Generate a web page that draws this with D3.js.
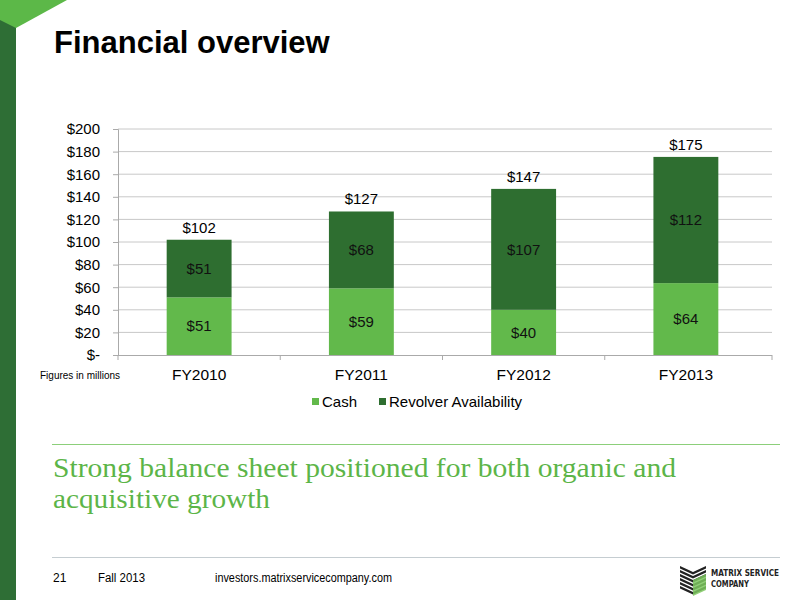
<!DOCTYPE html>
<html><head><meta charset="utf-8">
<script src="https://cdn.jsdelivr.net/npm/d3@7"></script>
<style>body{margin:0;background:#fff}svg{display:block}</style>
</head><body>
<script>
const categories = ["FY2010","FY2011","FY2012","FY2013"];
const cash = [51, 59, 40, 63.6];
const revolver = [51, 68, 107, 111.7];
const yTicks = [0,20,40,60,80,100,120,140,160,180,200];
const seriesNames = ["Cash","Revolver Availability"];
const colors = ["#62b94b","#2e6e30"];

const W=800,H=600;
const svg=d3.select("body").append("svg").attr("width",W).attr("height",H);

// slide decoration
svg.append("rect").attr("x",0).attr("y",0).attr("width",16).attr("height",H).attr("fill","#2e6e35");
svg.append("path").attr("d","M0,0 L67,0 L16,28 L0,20 Z").attr("fill","#5cb848");

svg.append("text").attr("x",54).attr("y",53).text("Financial overview")
  .attr("font-family","Liberation Sans, Arial, sans-serif").attr("font-weight","bold").attr("font-size",31).attr("fill","#000");

const m={l:118,r:772,t:129,b:355};
const x=d3.scaleBand().domain(categories).range([m.l,767]).paddingInner(0.6).paddingOuter(0.3);
const y=d3.scaleLinear().domain([0,200]).range([m.b,m.t]);

// gridlines
svg.append("g").selectAll("line").data(yTicks.slice(1)).join("line")
  .attr("x1",m.l).attr("x2",m.r).attr("y1",d=>y(d)).attr("y2",d=>y(d))
  .attr("stroke","#c8c8c8").attr("stroke-width",1);

const font="Liberation Sans, Arial, sans-serif";
// y axis
const yAxis=svg.append("g").attr("transform",`translate(${m.l},0)`)
  .call(d3.axisLeft(y).tickValues(yTicks).tickSize(5).tickFormat(d=>d===0?"$-":"$"+d));
yAxis.select(".domain").attr("stroke","#aaa");
yAxis.selectAll(".tick line").attr("stroke","#aaa");
yAxis.selectAll("text").attr("font-family",font).attr("font-size",15).attr("fill","#000").attr("x",-18);

// x axis
const xAxis=svg.append("g").attr("transform",`translate(0,${m.b})`)
  .call(d3.axisBottom(x).tickSize(0).tickSizeOuter(0));
xAxis.select(".domain").attr("stroke","#aaa").attr("d",`M${m.l},0.5H${m.r}`);
xAxis.selectAll("text").attr("font-family",font).attr("font-size",15.5).attr("fill","#000").attr("y",14);
// category boundary ticks
const bnd=d3.range(categories.length+1).map(i=>i===0?m.l:(i===categories.length?m.r:(x(categories[i-1])+x.bandwidth()+x(categories[i]))/2));
svg.append("g").selectAll("line").data(bnd).join("line")
  .attr("x1",d=>d).attr("x2",d=>d)
  .attr("y1",m.b).attr("y2",m.b+5).attr("stroke","#aaa");

// stacked bars
const data=categories.map((c,i)=>({cat:c,Cash:cash[i],"Revolver Availability":revolver[i]}));
const stack=d3.stack().keys(seriesNames)(data);
const g=svg.append("g");
stack.forEach((s,si)=>{
  g.selectAll(null).data(s).join("rect")
    .attr("x",d=>x(d.data.cat)).attr("width",x.bandwidth())
    .attr("y",d=>y(d[1])).attr("height",d=>y(d[0])-y(d[1]))
    .attr("fill",colors[si]);
  g.selectAll(null).data(s).join("text")
    .attr("x",d=>x(d.data.cat)+x.bandwidth()/2).attr("y",d=>(y(d[0])+y(d[1]))/2)
    .attr("dy","0.35em").attr("text-anchor","middle")
    .attr("font-family",font).attr("font-size",15).attr("fill","#111")
    .text(d=>"$"+Math.round(d[1]-d[0]));
});
// totals
g.selectAll(null).data(data).join("text")
  .attr("x",d=>x(d.cat)+x.bandwidth()/2).attr("y",d=>y(d.Cash+d["Revolver Availability"])-7)
  .attr("text-anchor","middle").attr("font-family",font).attr("font-size",15).attr("fill","#000")
  .text(d=>"$"+Math.round(d.Cash+d["Revolver Availability"]));

svg.append("text").attr("x",40).attr("y",379).text("Figures in millions")
  .attr("font-family",font).attr("font-size",10).attr("fill","#000");

// legend
const leg=svg.append("g");
const legItems=[{n:"Cash",x:312},{n:"Revolver Availability",x:379}];
legItems.forEach((it,i)=>{
  leg.append("rect").attr("x",it.x).attr("y",398).attr("width",7).attr("height",7).attr("fill",colors[i]);
  leg.append("text").attr("x",it.x+10).attr("y",407).text(it.n)
    .attr("font-family",font).attr("font-size",15).attr("fill","#000");
});

// bottom section
svg.append("line").attr("x1",52).attr("x2",780).attr("y1",444.5).attr("y2",444.5).attr("stroke","#8ccf7a").attr("stroke-width",1.2);
const sub=svg.append("text").attr("font-family","Liberation Serif, Georgia, serif").attr("font-size",28).attr("fill","#5cb548");
sub.append("tspan").attr("x",53).attr("y",477).attr("textLength",623).attr("lengthAdjust","spacingAndGlyphs").text("Strong balance sheet positioned for both organic and");
sub.append("tspan").attr("x",53).attr("y",508).attr("textLength",217).attr("lengthAdjust","spacingAndGlyphs").text("acquisitive growth");

svg.append("line").attr("x1",52).attr("x2",780).attr("y1",557.5).attr("y2",557.5).attr("stroke","#c5cdd1").attr("stroke-width",1.2);
const ff="Liberation Sans Narrow, Arial Narrow, Liberation Sans, sans-serif";
[["21",53,null],["Fall 2013",98,47],["investors.matrixservicecompany.com",215,177]].forEach(([t,xx,len])=>{
  const tx=svg.append("text").attr("x",xx).attr("y",582).text(t).attr("font-family",ff).attr("font-size",12).attr("fill","#000");
  if(len) tx.attr("textLength",len).attr("lengthAdjust","spacingAndGlyphs");
});

// logo
const lg=svg.append("g").attr("transform","translate(680,566)");
[0,4,8,12,16,20].forEach(o=>{
  lg.append("path").attr("d",`M0,${o} L13,${o+6} L26,${o} L26,${o+2.5} L13,${o+8.5} L0,${o+2.5} Z`).attr("fill","#222");
});
lg.append("path").attr("d","M13,14 L26,8 L26,24 L13,30 Z").attr("fill","#7dc75f").attr("opacity",0.85);
lg.append("text").attr("x",31).attr("y",10).text("MATRIX SERVICE").attr("font-family","DejaVu Sans, sans-serif").attr("font-weight","bold").attr("font-size",8).attr("textLength",68).attr("lengthAdjust","spacingAndGlyphs").attr("fill","#222");
lg.append("text").attr("x",31).attr("y",21).text("COMPANY").attr("font-family","DejaVu Sans, sans-serif").attr("font-weight","bold").attr("font-size",8).attr("textLength",38).attr("lengthAdjust","spacingAndGlyphs").attr("fill","#222");
</script>
</body></html>
